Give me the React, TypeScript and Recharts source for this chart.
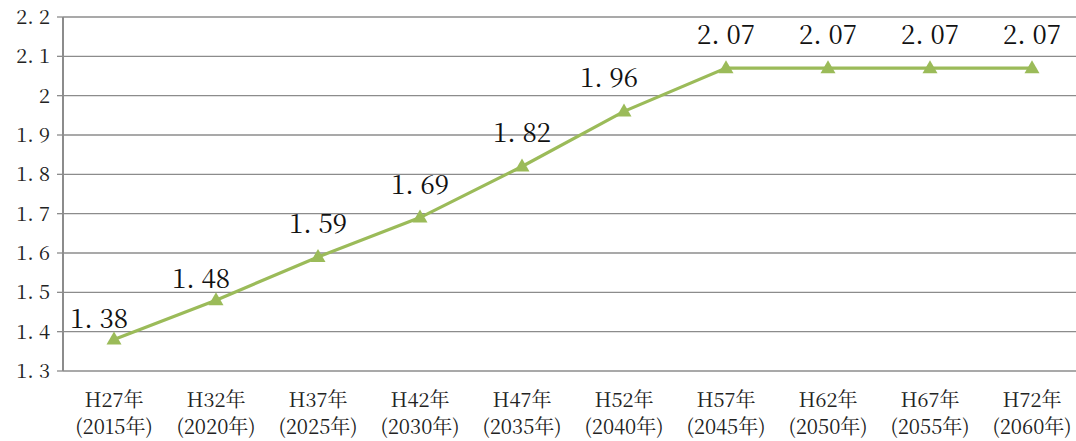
import { LineChart, Line, XAxis, YAxis, CartesianGrid, LabelList } from 'recharts'

// Total fertility-like index by year (H27 → H72)
const eraLabels = ['H27年', 'H32年', 'H37年', 'H42年', 'H47年', 'H52年', 'H57年', 'H62年', 'H67年', 'H72年']
const yearLabels = ['(2015年)', '(2020年)', '(2025年)', '(2030年)', '(2035年)', '(2040年)', '(2045年)', '(2050年)', '(2055年)', '(2060年)']
const values = [1.38, 1.48, 1.59, 1.69, 1.82, 1.96, 2.07, 2.07, 2.07, 2.07]
const yTicks = [1.3, 1.4, 1.5, 1.6, 1.7, 1.8, 1.9, 2.0, 2.1, 2.2]

const FONT = "'Noto Serif CJK JP', 'Liberation Serif', serif"
const GREEN = '#9bbb59'
const GRID = '#8c8c8c'

const rows = values.map((v, i) => ({ x: i + 0.5, v }))
const boundaryTicks = Array.from({ length: 11 }, (_, i) => i)
const centerTicks = rows.map((r) => r.x)

function fmtNum(v: number, digits: number) {
  if (v === 2) return '2'
  return v.toFixed(digits).replace('.', '. ')
}

function Triangle(props: any) {
  const { cx, cy } = props
  if (cx == null || cy == null) return null
  return <path d={`M${cx},${cy - 8} L${cx + 7.5},${cy + 5} L${cx - 7.5},${cy + 5} Z`} fill={GREEN} />
}

function CategoryTick(props: any) {
  const { x, y, payload } = props
  const i = Math.round(payload.value - 0.5)
  const st = { fontFamily: FONT, fontSize: 20 }
  return (
    <g>
      <text x={x} y={y + 28} textAnchor="middle" fill="#222" style={st}>{eraLabels[i]}</text>
      <text x={x} y={y + 55} textAnchor="middle" fill="#222" style={st}>{yearLabels[i]}</text>
    </g>
  )
}

function YTick(props: any) {
  const { x, y, payload } = props
  return (
    <text x={x - 5} y={y + 7} textAnchor="end" fill="#222" style={{ fontFamily: FONT, fontSize: 20 }}>
      {fmtNum(payload.value, 1)}
    </text>
  )
}

function ValueLabel(props: any) {
  const { x, y, value, index } = props
  // the first two labels sit lower, and a few are nudged left, as in the original
  const dy = index < 2 ? -12 : -24
  const dx = index < 2 || index === 5 ? -15 : 0
  return (
    <text x={x + dx} y={y + dy} textAnchor="middle" fill="#111" style={{ fontFamily: FONT, fontSize: 26 }}>
      {fmtNum(value, 2)}
    </text>
  )
}

export default function App() {
  return (
    <div style={{ position: 'absolute', left: 0, top: 0, width: 1076, height: 441, overflow: 'hidden' }}>
      <LineChart width={1103} height={441} data={rows} margin={{ top: 17, right: 20, left: 0, bottom: 0 }}>
        <CartesianGrid vertical={false} stroke={GRID} strokeWidth={1.3} />
        <XAxis
          dataKey="x"
          type="number"
          domain={[0, 10]}
          ticks={boundaryTicks}
          tick={false}
          height={0}
          axisLine={{ stroke: GRID, strokeWidth: 2 }}
          tickLine={{ stroke: GRID, strokeWidth: 1.3 }}
          tickSize={6}
        />
        <XAxis
          xAxisId="lab"
          dataKey="x"
          type="number"
          domain={[0, 10]}
          ticks={centerTicks}
          tick={<CategoryTick />}
          axisLine={false}
          tickLine={false}
          height={70}
          interval={0}
        />
        <YAxis
          type="number"
          domain={[1.3, 2.2]}
          ticks={yTicks}
          width={63}
          axisLine={{ stroke: GRID, strokeWidth: 2 }}
          tickLine={{ stroke: GRID, strokeWidth: 1.3 }}
          tickSize={6}
          tick={<YTick />}
          interval={0}
        />
        <Line
          dataKey="v"
          stroke={GREEN}
          strokeWidth={3.2}
          dot={<Triangle />}
          activeDot={false}
          isAnimationActive={false}
        >
          <LabelList dataKey="v" content={<ValueLabel />} />
        </Line>
      </LineChart>
    </div>
  )
}
